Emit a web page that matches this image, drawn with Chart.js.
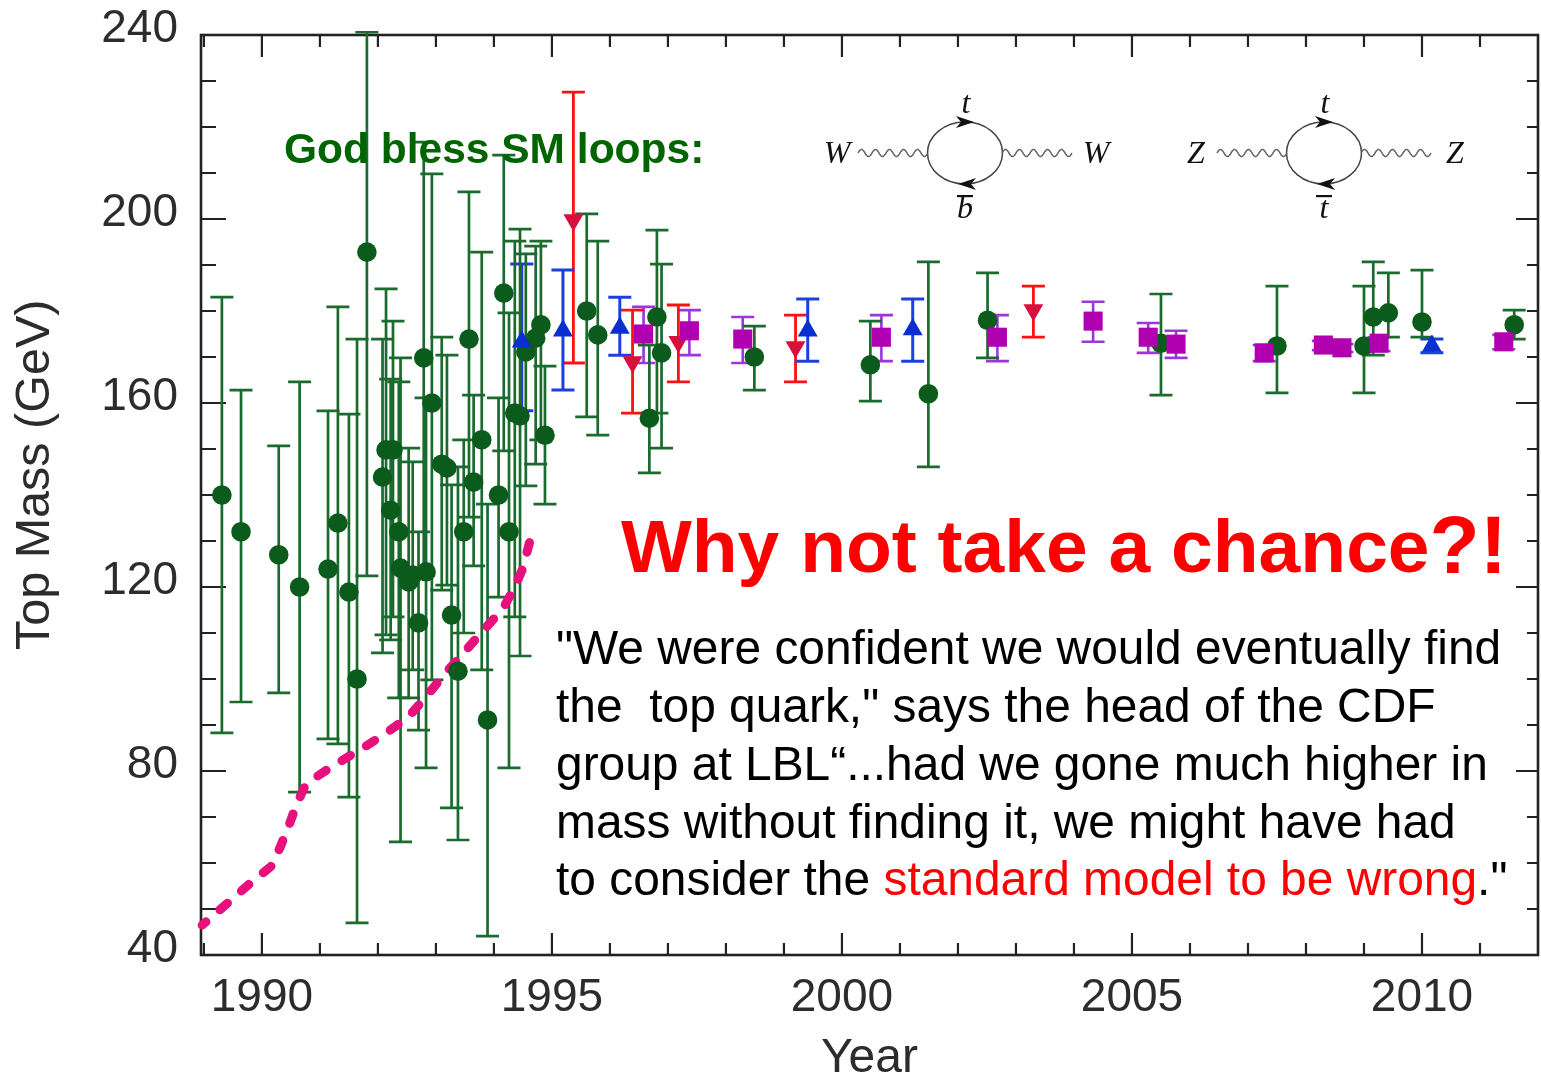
<!DOCTYPE html>
<html>
<head>
<meta charset="utf-8">
<title>Top Mass</title>
<script src="https://cdn.jsdelivr.net/npm/chart.js@4/dist/chart.umd.min.js"></script>
<style>
  html, body { margin: 0; padding: 0; background: #fff; }
  canvas { display: block; }
</style>
</head>
<body>
<canvas id="chart" width="1541" height="1075"></canvas>
<script>
const xTicks = [1990, 1995, 2000, 2005, 2010];
const yTicks = [40, 80, 120, 160, 200, 240];

// indirect measurements
const greenYears = [1989.31, 1989.64, 1990.29, 1990.65, 1991.14, 1991.31, 1991.50, 1991.64, 1991.81, 1992.08, 1992.14, 1992.26, 1992.22, 1992.36, 1992.39, 1992.60, 1992.53, 1992.70, 1992.83, 1992.79, 1992.93, 1993.10, 1993.19, 1993.27, 1993.38, 1993.48, 1993.57, 1993.65, 1993.79, 1993.89, 1994.08, 1994.17, 1994.26, 1994.36, 1994.45, 1994.55, 1994.72, 1994.81, 1994.88, 1995.60, 1995.79, 1996.68, 1996.81, 1996.89, 1998.49, 2000.49, 2001.49, 2002.51, 2005.50, 2007.50, 2009.00, 2009.16, 2009.42, 2010.00, 2011.59];
const greenMass = [140, 132, 127, 120, 123.9, 133.9, 118.9, 100, 192.8, 143.9, 149.8, 149.8, 136.7, 132, 124.1, 122.6, 121.1, 112.2, 123.3, 169.8, 160, 146.7, 145.9, 113.9, 101.7, 132, 173.9, 142.8, 152, 91.1, 140, 183.9, 132, 157.8, 157.2, 171.1, 174.1, 177, 153, 180, 174.8, 156.7, 178.7, 170.9, 170, 168.3, 162, 178, 173, 172.4, 172.4, 178.7, 179.6, 177.6, 177];
const greenHigh = [183, 162.8, 150.7, 164.6, 158.3, 180.9, 157.6, 173.9, 240.6, 173.9, 184.8, 177.8, 165.2, 164.6, 169.8, 147.2, 150.2, 132, 161.1, 216.7, 209.8, 174.3, 170.4, 142.2, 146.1, 152, 205.9, 161.7, 192.8, 138, 161.1, 213.9, 179.6, 195.2, 197.8, 192.4, 194.1, 195.2, 168, 201.1, 195.2, 172.6, 197.6, 190.2, 176.7, 177.8, 190.7, 188.3, 183.7, 185.4, 185.4, 190.7, 188.3, 188.9, 180.2];
const greenLow = [88.3, 95, 97, 75.4, 87, 85.9, 74.3, 47, 122.4, 105.7, 109.6, 113.5, 108.5, 95.9, 64.6, 102, 95.9, 88.9, 80.7, 122.6, 99.8, 119.3, 120.4, 72, 65, 110, 135.2, 124.6, 102, 44.1, 117.8, 149.6, 80.7, 113.5, 105, 142, 146.7, 152, 138, 157, 153, 144.8, 157.8, 150.2, 162.8, 160.4, 146.1, 169.8, 161.7, 162.2, 162.2, 170.4, 174.3, 174.3, 173.9];

// direct measurements
const blueYears = [1994.48, 1995.19, 1996.17, 1999.41, 2001.22, 2010.17];
const blueMass = [173.3, 175.7, 176.3, 175.7, 176, 172.4];
const blueHigh = [190.2, 188.9, 183, 182.6, 182.6, 173.9];
const blueLow = [158.3, 162.8, 170.4, 169.1, 169.1, 170.9];

const redYears = [1995.37, 1996.39, 1997.18, 1999.20, 2003.30];
const redMass = [199.8, 168.9, 173.3, 172.2, 180.2];
const redHigh = [227.6, 180.2, 181.3, 179.1, 185.4];
const redLow = [168.7, 157.8, 164.6, 164.6, 174.3];

const purpleYears = [1996.58, 1997.37, 1998.29, 2000.68, 2002.68, 2004.33, 2005.28, 2005.76, 2007.28, 2008.30, 2008.62, 2009.26, 2011.41];
const purpleMass = [175, 175.7, 173.9, 174.3, 174.3, 177.8, 174.3, 172.8, 170.9, 172.6, 172, 173, 173.3];
const purpleHigh = [180.9, 180.2, 178.7, 179.1, 179.1, 182, 177.4, 175.7, 172.6, 173.5, 172.8, 174.3, 174.8];
const purpleLow = [168.7, 170.4, 168.7, 169.1, 169.1, 173.3, 170.9, 169.8, 169.1, 171.5, 171.1, 171.3, 171.7];

// lower bound curve
const boundYears = [1988.97, 1989.41, 1989.78, 1990.16, 1990.31, 1990.47, 1990.60, 1990.76, 1991.09, 1991.45, 1991.83, 1992.17, 1992.52, 1992.84, 1993.15, 1993.48, 1993.79, 1994.15, 1994.36, 1994.50, 1994.62];
const boundMass = [46.5, 51.3, 55.4, 59.3, 63.3, 68.3, 72.8, 77.2, 80, 82.8, 85.7, 88.5, 91.7, 96.3, 101.1, 105.7, 110.2, 115.2, 120, 124.1, 130];

const SANS = '"Liberation Sans", Arial, sans-serif';
const SERIF = '"Liberation Serif", "Times New Roman", serif';
const AXIS_COLOR = '#2c2c2c';

function points(xs, ys, hi, lo) {
  return xs.map((x, i) => ({ x: x, y: ys[i], hi: hi ? hi[i] : null, lo: lo ? lo[i] : null }));
}

// vertical bars with caps, under all the markers
const errorBars = {
  id: 'errorBars',
  beforeDatasetsDraw(chart) {
    const ctx = chart.ctx;
    const xs = chart.scales.x;
    const ys = chart.scales.y;
    chart.data.datasets.forEach(ds => {
      if (!ds.barColor) return;
      ctx.save();
      ctx.strokeStyle = ds.barColor;
      ctx.lineWidth = ds.barWidth;
      ds.data.forEach(p => {
        const px = xs.getPixelForValue(p.x);
        const top = ys.getPixelForValue(p.hi);
        const bot = ys.getPixelForValue(p.lo);
        ctx.beginPath();
        ctx.moveTo(px, top);
        ctx.lineTo(px, bot);
        ctx.moveTo(px - 11.5, top);
        ctx.lineTo(px + 11.5, top);
        ctx.moveTo(px - 11.5, bot);
        ctx.lineTo(px + 11.5, bot);
        ctx.stroke();
      });
      ctx.restore();
    });
  }
};

// box round the plot with inward ticks on all four sides
const frame = {
  id: 'frame',
  beforeDatasetsDraw(chart) {
    const ctx = chart.ctx;
    const a = chart.chartArea;
    const xs = chart.scales.x;
    const ys = chart.scales.y;
    ctx.save();
    ctx.strokeStyle = '#222';
    ctx.lineWidth = 2.2;
    for (let v = 1989; v <= 2011; v++) {
      const len = v % 5 === 0 ? 22 : 12;
      const px = xs.getPixelForValue(v);
      ctx.beginPath();
      ctx.moveTo(px, a.bottom);
      ctx.lineTo(px, a.bottom - len);
      ctx.moveTo(px, a.top);
      ctx.lineTo(px, a.top + len);
      ctx.stroke();
    }
    for (let v = 50; v < 240; v += 10) {
      const major = v % 40 === 0;
      const px = ys.getPixelForValue(v);
      ctx.beginPath();
      ctx.moveTo(a.left, px);
      ctx.lineTo(a.left + (major ? 25 : 15), px);
      ctx.moveTo(a.right, px);
      ctx.lineTo(a.right - (major ? 22 : 11), px);
      ctx.stroke();
    }
    ctx.lineWidth = 2.6;
    ctx.strokeRect(a.left, a.top, a.right - a.left, a.bottom - a.top);
    ctx.restore();
  }
};

function wave(ctx, x0, x1, y) {
  ctx.beginPath();
  for (let x = x0; x <= x1; x += 0.5) {
    const yy = y - 3.6 * Math.sin((x - x0) / 14 * 2 * Math.PI);
    if (x === x0) ctx.moveTo(x, yy); else ctx.lineTo(x, yy);
  }
  ctx.stroke();
}

function arrowHead(ctx, x, y, dir) {
  ctx.beginPath();
  ctx.moveTo(x + dir * 9, y);
  ctx.lineTo(x - dir * 9, y - 6);
  ctx.lineTo(x - dir * 4, y);
  ctx.lineTo(x - dir * 9, y + 6);
  ctx.closePath();
  ctx.fill();
}

function loopDiagram(ctx, cx, leftLabel, rightLabel, botLabel) {
  const cy = 153;
  ctx.save();
  ctx.strokeStyle = '#444';
  ctx.fillStyle = '#111';
  ctx.lineWidth = 1.5;
  ctx.beginPath();
  ctx.ellipse(cx, cy, 37.5, 31, 0, 0, 2 * Math.PI);
  ctx.stroke();
  ctx.strokeStyle = '#666';
  wave(ctx, cx - 107, cx - 37, cy);
  wave(ctx, cx + 37, cx + 107, cy);
  arrowHead(ctx, cx, cy - 31, 1);
  arrowHead(ctx, cx + 2, cy + 31, -1);
  ctx.font = 'italic 32px ' + SERIF;
  ctx.textAlign = 'center';
  ctx.textBaseline = 'alphabetic';
  ctx.fillText(leftLabel, cx - 128, cy + 10);
  ctx.fillText(rightLabel, cx + 131, cy + 10);
  ctx.fillText('t', cx + 1, cy - 40);
  ctx.fillText(botLabel, cx, cy + 65);
  ctx.fillRect(cx - 8, cy + 42, 16, 2.2);
  ctx.restore();
}

// everything that sits on top of the plot
const overlay = {
  id: 'overlay',
  afterDraw(chart) {
    const ctx = chart.ctx;
    ctx.save();
    ctx.textAlign = 'left';
    ctx.textBaseline = 'alphabetic';

    ctx.fillStyle = '#006400';
    ctx.font = 'bold 42.5px ' + SANS;
    ctx.fillText('God bless SM loops:', 284, 163);

    ctx.fillStyle = '#ff0000';
    ctx.font = 'bold 75px ' + SANS;
    const why = 'Why not take a chance';
    ctx.fillText(why, 621, 572);
    const whyW = ctx.measureText(why).width;
    ctx.font = 'bold 82px ' + SANS;
    ctx.fillText('?!', 621 + whyW, 573);

    ctx.fillStyle = '#000';
    ctx.font = '47.9px ' + SANS;
    ctx.fillText('"We were confident we would eventually find', 556, 664);
    ctx.fillText('the  top quark," says the head of the CDF', 556, 722);
    ctx.fillText('group at LBL\u201c...had we gone much higher in', 556, 780);
    ctx.fillText('mass without finding it, we might have had', 556, 838);
    let x = 556;
    ctx.fillText('to consider the ', x, 895);
    x += ctx.measureText('to consider the ').width;
    ctx.fillStyle = '#ff0000';
    ctx.fillText('standard model to be wrong', x, 895);
    x += ctx.measureText('standard model to be wrong').width;
    ctx.fillStyle = '#000';
    ctx.fillText('."', x, 895);

    loopDiagram(ctx, 965, 'W', 'W', 'b');
    loopDiagram(ctx, 1324, 'Z', 'Z', 't');
    ctx.restore();
  }
};

new Chart(document.getElementById('chart'), {
  type: 'scatter',
  plugins: [frame, errorBars, overlay],
  data: {
    datasets: [
      {
        label: 'Direct (Tevatron)',
        data: points(purpleYears, purpleMass, purpleHigh, purpleLow),
        pointStyle: 'rect', pointRadius: 13.5,
        backgroundColor: '#b000b0', borderWidth: 0,
        barColor: '#9a35e0', barWidth: 2.6,
        order: 1, clip: false
      },
      {
        label: 'Direct (red)',
        data: points(redYears, redMass, redHigh, redLow),
        pointStyle: 'triangle', pointRotation: 180, pointRadius: 11.5,
        backgroundColor: '#d8103c', borderWidth: 0,
        barColor: '#ff1010', barWidth: 2.8,
        order: 2, clip: false
      },
      {
        label: 'Direct (blue)',
        data: points(blueYears, blueMass, blueHigh, blueLow),
        pointStyle: 'triangle', pointRadius: 11.5,
        backgroundColor: '#0a2ed0', borderWidth: 0,
        barColor: '#1c3fe0', barWidth: 3,
        order: 3, clip: false
      },
      {
        label: 'Indirect',
        data: points(greenYears, greenMass, greenHigh, greenLow),
        pointStyle: 'circle', pointRadius: 9.8,
        backgroundColor: '#0b5c1c', borderWidth: 0,
        barColor: '#1b6a2e', barWidth: 2.7,
        order: 4, clip: false
      },
      {
        label: 'Lower bound',
        type: 'line',
        data: points(boundYears, boundMass),
        showLine: true, pointRadius: 0, tension: 0,
        borderColor: '#e8107c', borderWidth: 9,
        borderDash: [10, 18.5], borderCapStyle: 'round', borderDashOffset: 5,
        order: 5, clip: false
      }
    ]
  },
  options: {
    responsive: false,
    animation: false,
    layout: { autoPadding: false, padding: { top: 35, right: 3, left: 0, bottom: 0 } },
    plugins: { legend: { display: false }, tooltip: { enabled: false } },
    scales: {
      x: {
        type: 'linear',
        min: 1988.95,
        max: 2012,
        grid: { display: false },
        border: { display: false },
        afterFit(scale) {
          scale.height = 120;
          scale.paddingLeft = 0;
          scale.paddingRight = 0;
        },
        afterBuildTicks(scale) { scale.ticks = xTicks.map(v => ({ value: v })); },
        ticks: {
          color: AXIS_COLOR,
          padding: 8,
          maxRotation: 0,
          font: { family: SANS, size: 46 },
          callback: v => String(v)
        },
        title: {
          display: true,
          text: 'Year',
          color: AXIS_COLOR,
          font: { family: SANS, size: 48, lineHeight: 1 },
          padding: { top: 0, bottom: -8 }
        }
      },
      y: {
        type: 'linear',
        min: 40,
        max: 240,
        grid: { display: false },
        border: { display: false },
        afterFit(scale) { scale.width = 201; },
        afterBuildTicks(scale) { scale.ticks = yTicks.map(v => ({ value: v })); },
        ticks: {
          color: AXIS_COLOR,
          padding: 15,
          font: { family: SANS, size: 46, lineHeight: '12px' },
          callback: v => [String(v), '']
        },
        title: {
          display: true,
          text: '   Top Mass (GeV)',
          color: AXIS_COLOR,
          font: { family: SANS, size: 48.5, lineHeight: 1 },
          padding: { top: 11, bottom: 0 }
        }
      }
    }
  }
});
</script>
</body>
</html>
